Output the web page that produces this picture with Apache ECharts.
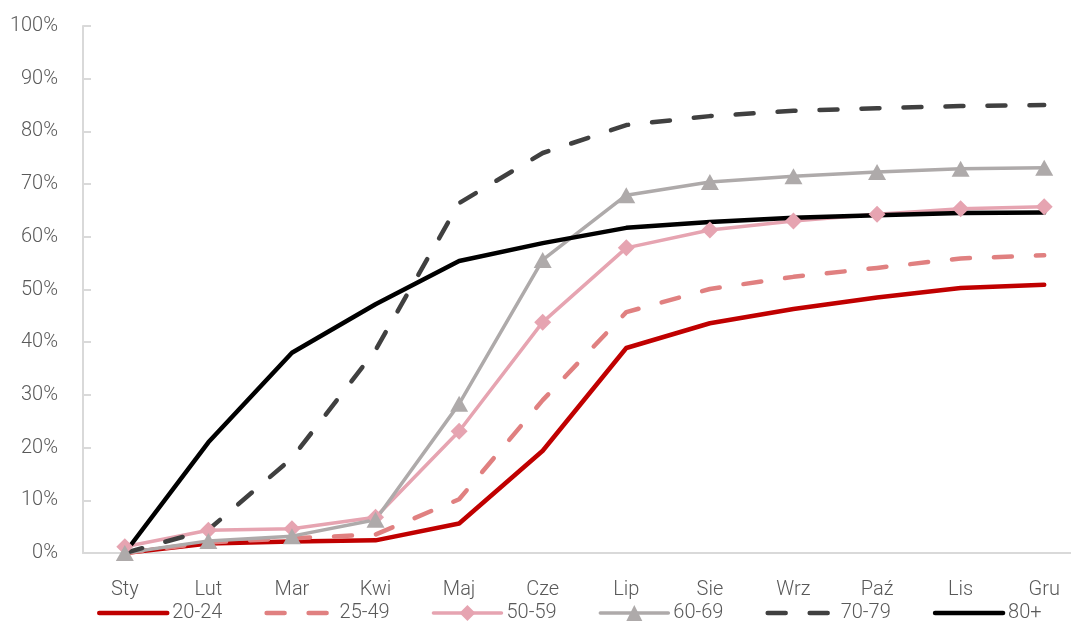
<!DOCTYPE html>
<html>
<head>
<meta charset="utf-8">
<script src="https://cdn.jsdelivr.net/npm/echarts@6/dist/echarts.min.js"></script>
<style>
  html, body { margin: 0; padding: 0; background: #fff; overflow: hidden; }
  /* plot area runs slightly past the right edge of the page */
  #chart { width: 1086px; height: 621px; }
</style>
</head>
<body>
<div id="chart"></div>
<script>
// Months (Polish abbreviations)
const months = ['Sty', 'Lut', 'Mar', 'Kwi', 'Maj', 'Cze', 'Lip', 'Sie', 'Wrz', 'Paź', 'Lis', 'Gru'];

// Cumulative share per age group, in percent
const age20_24 = [0, 1.8, 2.2, 2.4, 5.6, 19.4, 38.9, 43.6, 46.3, 48.5, 50.3, 50.9];
const age25_49 = [0, 2.0, 2.8, 3.5, 10.2, 29.0, 45.7, 50.1, 52.4, 54.1, 55.9, 56.5];
const age50_59 = [1.2, 4.3, 4.6, 6.8, 23.1, 43.8, 57.9, 61.3, 63.0, 64.3, 65.3, 65.7];
const age60_69 = [0, 2.3, 3.2, 6.3, 28.3, 55.6, 67.9, 70.4, 71.5, 72.3, 72.9, 73.1];
const age70_79 = [0, 4.4, 18.0, 38.5, 66.4, 75.9, 81.2, 82.9, 83.9, 84.4, 84.8, 85.0];
const age80p   = [0, 21.0, 38.0, 47.2, 55.4, 58.8, 61.7, 62.8, 63.6, 64.1, 64.5, 64.6];

const yTicks = { min: 0, max: 100, step: 10 };

const FONT = 'Roboto';
const TEXT = '#595959';
const AXIS = '#D9D9D9';

const chart = echarts.init(document.getElementById('chart'), null, { renderer: 'canvas' });

function lineSeries(name, data, color, width, opts) {
  return Object.assign({
    name: name,
    type: 'line',
    data: data,
    symbol: 'none',
    lineStyle: { color: color, width: width, cap: 'round', join: 'round' },
    itemStyle: { color: color },
    emphasis: { disabled: true },
    animation: false
  }, opts || {});
}

// legend entries for plain lines hide the default marker dot
const plain = { itemStyle: { opacity: 0 } };

chart.setOption({
  backgroundColor: '#fff',
  animation: false,
  grid: { left: 83, top: 26, bottom: 68, right: 0, containLabel: false },
  xAxis: {
    type: 'category',
    data: months,
    boundaryGap: true,
    axisLine: { show: true, lineStyle: { color: AXIS, width: 2 } },
    axisTick: { show: false },
    axisLabel: { color: TEXT, fontFamily: FONT, fontWeight: 300, fontSize: 20, margin: 27, interval: 0 },
    splitLine: { show: false }
  },
  yAxis: {
    type: 'value',
    min: yTicks.min,
    max: yTicks.max,
    interval: yTicks.step,
    axisLine: { show: true, lineStyle: { color: AXIS, width: 2 } },
    axisTick: { show: true, inside: true, length: 8, lineStyle: { color: AXIS, width: 2 } },
    axisLabel: { color: TEXT, fontFamily: FONT, fontWeight: 300, fontSize: 20, margin: 25, formatter: '{value}%' },
    splitLine: { show: false }
  },
  legend: {
    bottom: -2,
    left: 97,
    padding: 0,
    itemWidth: 68,
    itemHeight: 20,
    itemGap: 42,
    lineStyle: { width: 'inherit', type: 'inherit' },
    textStyle: { color: TEXT, fontFamily: FONT, fontWeight: 300, fontSize: 20 },
    data: [
      Object.assign({ name: '20-24' }, plain),
      Object.assign({ name: '25-49' }, plain),
      { name: '50-59' },
      { name: '60-69' },
      Object.assign({ name: '70-79' }, plain),
      Object.assign({ name: '80+' }, plain)
    ]
  },
  series: [
    lineSeries('20-24', age20_24, '#C00000', 4.5),
    lineSeries('25-49', age25_49, '#E08080', 4.5, {
      lineStyle: { color: '#E08080', width: 4.5, type: [18, 24], cap: 'round', join: 'round' }
    }),
    lineSeries('50-59', age50_59, '#E6A4B1', 3.5, { symbol: 'diamond', symbolSize: [17, 17], showSymbol: true }),
    lineSeries('60-69', age60_69, '#AEAAAA', 3.5, { symbol: 'triangle', symbolSize: [18, 16], showSymbol: true }),
    lineSeries('70-79', age70_79, '#404040', 4.5, {
      lineStyle: { color: '#404040', width: 4.5, type: [18, 24], cap: 'round', join: 'round' }
    }),
    lineSeries('80+', age80p, '#000000', 4.5)
  ]
});
</script>
</body>
</html>
